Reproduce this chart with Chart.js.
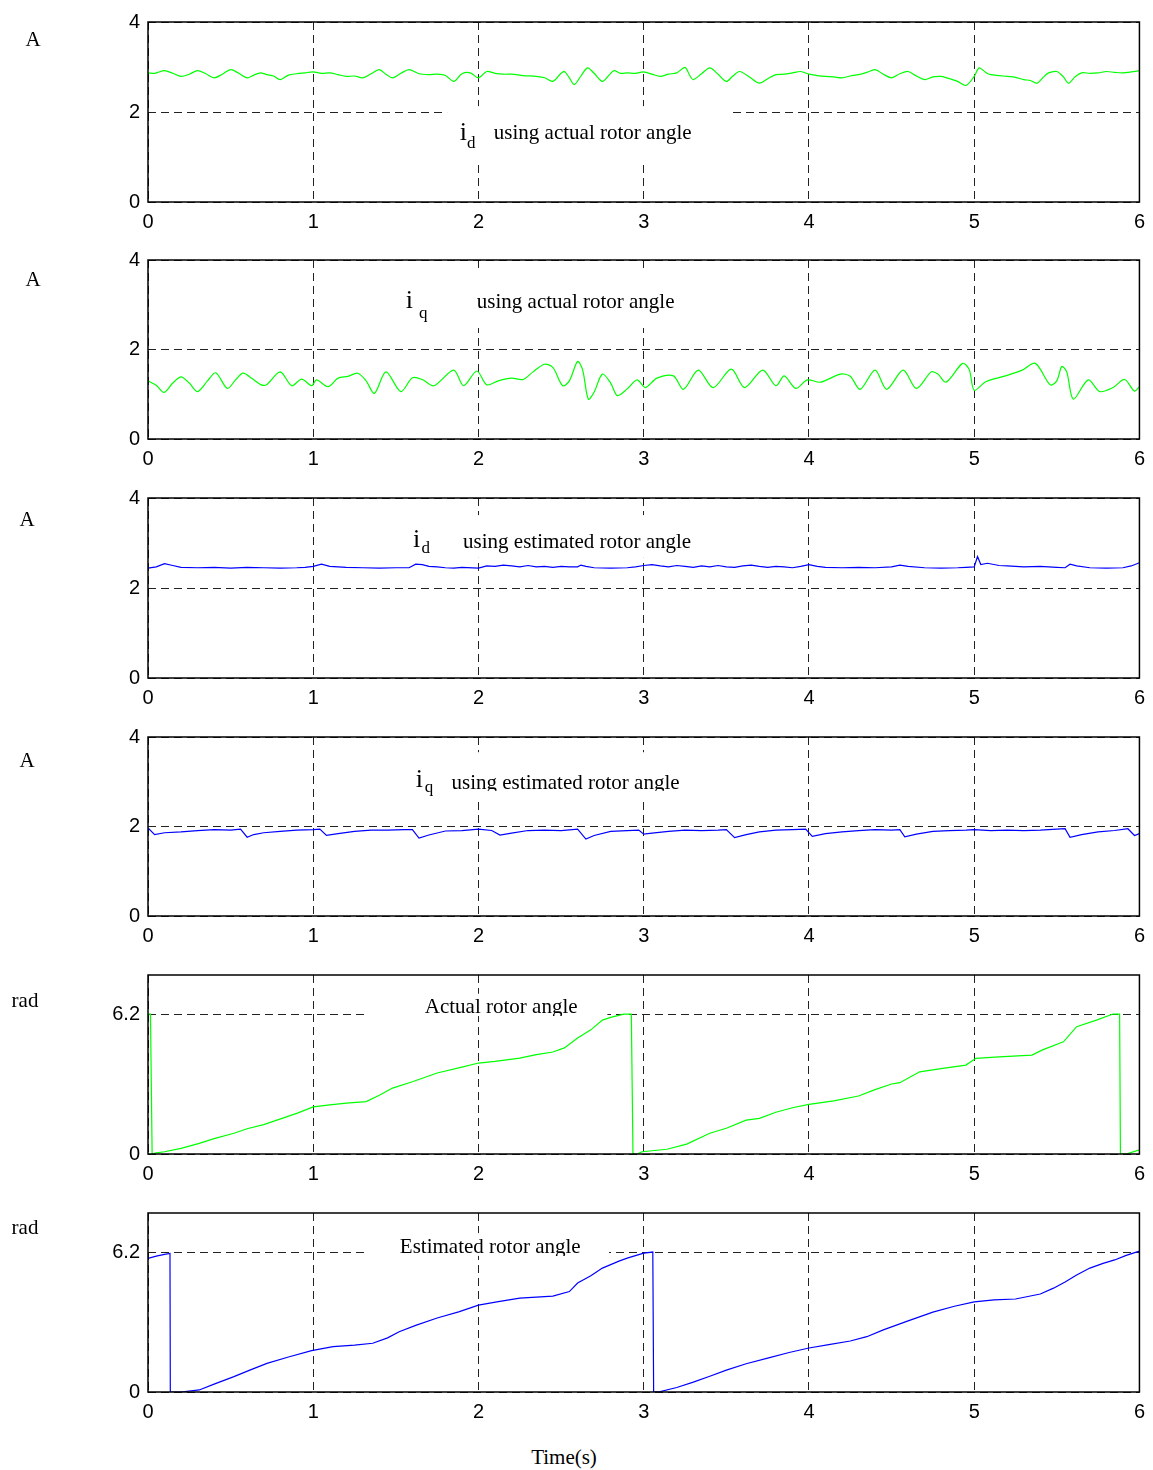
<!DOCTYPE html>
<html>
<head>
<meta charset="utf-8">
<title>Rotor angle / current traces</title>
<script src="https://cdn.jsdelivr.net/npm/chart.js@4.4.0/dist/chart.umd.min.js"></script>
<style>
  html, body { margin: 0; padding: 0; background: #fff; }
  #page { position: relative; width: 1153px; height: 1470px; overflow: hidden; }
  #page canvas { position: absolute; left: 0; }
  #xlabel {
    position: absolute; left: 564px; top: 1457px; transform: translate(-50%, -50%);
    font: 21px "Liberation Serif", "Times New Roman", serif; color: #000; white-space: nowrap;
  }
</style>
</head>
<body>
<div id="page">
  <div id="xlabel">Time(s)</div>
</div>
<script>
// ------------------------------------------------------------
// Data (time in s, value in A or rad)
// ------------------------------------------------------------
const xTicks = [0, 1, 2, 3, 4, 5, 6];
const currentTicks = [0, 2, 4];
const angleTicks = [0, 6.2];

// i_d using actual rotor angle
const idActT = [0.00,0.04,0.10,0.15,0.20,0.25,0.30,0.35,0.40,0.45,0.50,0.55,0.60,0.64,0.68,0.72,0.76,0.80,0.85,0.90,0.95,1.00,1.05,1.10,1.15,1.20,1.25,1.30,1.35,1.40,1.44,1.48,1.53,1.58,1.64,1.70,1.75,1.80,1.85,1.90,1.95,2.00,2.05,2.10,2.15,2.20,2.27,2.35,2.40,2.45,2.50,2.52,2.55,2.58,2.62,2.66,2.70,2.75,2.79,2.82,2.86,2.90,2.95,3.00,3.05,3.10,3.15,3.20,3.25,3.28,3.30,3.35,3.40,3.45,3.50,3.54,3.58,3.64,3.70,3.75,3.80,3.85,3.90,3.95,4.00,4.05,4.10,4.15,4.20,4.25,4.30,4.35,4.40,4.45,4.50,4.55,4.60,4.65,4.70,4.75,4.80,4.85,4.90,4.95,5.00,5.03,5.07,5.10,5.15,5.20,5.25,5.30,5.34,5.38,5.42,5.45,5.50,5.54,5.57,5.61,5.65,5.70,5.75,5.80,5.85,5.90,5.95,6.00];
const idActV = [2.87,2.86,2.92,2.86,2.79,2.84,2.92,2.85,2.76,2.84,2.94,2.86,2.76,2.82,2.87,2.83,2.80,2.72,2.82,2.85,2.87,2.89,2.86,2.87,2.83,2.79,2.80,2.76,2.85,2.94,2.84,2.76,2.86,2.94,2.85,2.83,2.84,2.81,2.68,2.85,2.87,2.76,2.90,2.86,2.84,2.84,2.81,2.79,2.76,2.68,2.86,2.90,2.76,2.61,2.80,2.98,2.86,2.68,2.82,2.92,2.86,2.87,2.86,2.89,2.84,2.79,2.84,2.87,2.99,2.80,2.72,2.85,2.98,2.84,2.68,2.80,2.90,2.78,2.64,2.74,2.83,2.84,2.87,2.90,2.84,2.81,2.79,2.78,2.76,2.80,2.83,2.88,2.94,2.84,2.76,2.85,2.90,2.80,2.72,2.78,2.79,2.74,2.68,2.59,2.79,2.98,2.88,2.83,2.81,2.79,2.77,2.72,2.70,2.64,2.78,2.87,2.90,2.78,2.64,2.78,2.87,2.86,2.87,2.90,2.88,2.87,2.89,2.92];

// i_q using actual rotor angle
const iqActT = [0.00,0.05,0.097,0.15,0.20,0.25,0.30,0.36,0.41,0.48,0.53,0.575,0.63,0.685,0.72,0.80,0.87,0.93,0.99,1.02,1.09,1.15,1.21,1.27,1.32,1.37,1.44,1.53,1.60,1.66,1.73,1.85,1.91,1.99,2.05,2.12,2.20,2.27,2.33,2.40,2.45,2.51,2.55,2.60,2.63,2.665,2.70,2.75,2.80,2.84,2.90,2.96,3.01,3.08,3.18,3.24,3.33,3.42,3.53,3.61,3.72,3.80,3.85,3.92,3.99,4.07,4.19,4.25,4.31,4.40,4.47,4.57,4.65,4.74,4.78,4.83,4.93,4.97,5.00,5.07,5.19,5.29,5.37,5.46,5.50,5.53,5.56,5.60,5.69,5.76,5.84,5.91,5.97,6.00];
const iqActV = [1.30,1.20,1.04,1.25,1.39,1.25,1.06,1.30,1.48,1.13,1.32,1.47,1.35,1.21,1.22,1.50,1.19,1.34,1.19,1.32,1.17,1.36,1.40,1.47,1.30,1.02,1.50,1.06,1.37,1.33,1.19,1.54,1.19,1.52,1.21,1.30,1.36,1.33,1.50,1.67,1.60,1.19,1.30,1.73,1.55,0.89,1.05,1.45,1.25,0.97,1.12,1.32,1.15,1.36,1.41,1.11,1.54,1.15,1.56,1.15,1.54,1.19,1.41,1.13,1.32,1.27,1.45,1.40,1.11,1.54,1.11,1.54,1.13,1.50,1.45,1.27,1.69,1.55,1.09,1.28,1.41,1.54,1.69,1.21,1.30,1.62,1.50,0.89,1.32,1.06,1.15,1.33,1.07,1.17];

// i_d using estimated rotor angle
const idEstT = [0.00,0.05,0.10,0.15,0.20,0.30,0.40,0.50,0.60,0.70,0.80,0.90,0.95,1.00,1.05,1.10,1.20,1.30,1.40,1.50,1.58,1.62,1.66,1.70,1.75,1.80,1.85,1.90,2.00,2.05,2.10,2.15,2.20,2.25,2.30,2.35,2.40,2.45,2.50,2.55,2.60,2.62,2.65,2.70,2.80,2.90,2.95,3.00,3.05,3.10,3.15,3.20,3.25,3.30,3.35,3.40,3.45,3.50,3.55,3.60,3.65,3.70,3.75,3.80,3.85,3.90,3.95,4.00,4.05,4.10,4.20,4.30,4.40,4.50,4.55,4.60,4.70,4.80,4.90,4.95,5.00,5.02,5.04,5.08,5.15,5.20,5.30,5.40,5.50,5.55,5.58,5.62,5.70,5.80,5.90,5.95,6.00];
const idEstV = [2.44,2.47,2.54,2.50,2.46,2.45,2.46,2.44,2.46,2.45,2.44,2.45,2.46,2.48,2.53,2.48,2.46,2.45,2.44,2.45,2.45,2.53,2.52,2.48,2.47,2.45,2.44,2.46,2.44,2.49,2.48,2.51,2.49,2.47,2.50,2.47,2.48,2.46,2.48,2.47,2.47,2.51,2.48,2.45,2.44,2.45,2.47,2.50,2.52,2.49,2.47,2.50,2.48,2.46,2.49,2.47,2.50,2.47,2.46,2.49,2.51,2.48,2.46,2.48,2.47,2.45,2.48,2.52,2.48,2.46,2.45,2.46,2.45,2.47,2.51,2.48,2.45,2.44,2.45,2.46,2.47,2.70,2.52,2.55,2.50,2.49,2.47,2.48,2.46,2.45,2.53,2.49,2.45,2.44,2.45,2.49,2.56];

// i_q using estimated rotor angle
const iqEstT = [0.00,0.04,0.10,0.20,0.30,0.40,0.50,0.56,0.60,0.64,0.70,0.80,0.90,1.00,1.04,1.08,1.15,1.25,1.35,1.45,1.55,1.60,1.64,1.70,1.80,1.90,2.00,2.08,2.13,2.20,2.30,2.40,2.50,2.60,2.65,2.70,2.80,2.90,2.97,3.00,3.05,3.15,3.25,3.35,3.45,3.50,3.55,3.62,3.70,3.80,3.90,3.98,4.02,4.10,4.20,4.30,4.40,4.50,4.55,4.58,4.65,4.75,4.85,4.95,5.00,5.10,5.20,5.30,5.40,5.50,5.55,5.58,5.65,5.75,5.85,5.93,5.97,6.00];
const iqEstV = [1.97,1.82,1.86,1.88,1.91,1.93,1.92,1.94,1.76,1.82,1.86,1.89,1.92,1.93,1.94,1.80,1.84,1.89,1.92,1.92,1.93,1.93,1.74,1.81,1.90,1.91,1.94,1.91,1.81,1.85,1.91,1.92,1.91,1.94,1.72,1.80,1.89,1.91,1.92,1.83,1.85,1.89,1.92,1.91,1.92,1.93,1.75,1.82,1.88,1.92,1.93,1.94,1.78,1.84,1.88,1.91,1.93,1.92,1.93,1.77,1.83,1.89,1.91,1.92,1.93,1.91,1.92,1.91,1.92,1.94,1.95,1.76,1.82,1.88,1.91,1.95,1.80,1.84];

// Actual rotor angle
const angActT = [0.00,0.015,0.025,0.05,0.10,0.20,0.31,0.40,0.52,0.60,0.70,0.78,0.90,1.00,1.10,1.20,1.32,1.40,1.48,1.60,1.75,1.90,2.00,2.10,2.25,2.35,2.45,2.52,2.60,2.68,2.75,2.80,2.88,2.925,2.935,2.96,2.99,3.14,3.26,3.40,3.50,3.62,3.70,3.80,3.90,4.00,4.15,4.30,4.40,4.50,4.55,4.67,4.81,4.95,5.01,5.15,5.35,5.41,5.54,5.62,5.74,5.84,5.88,5.885,5.92,6.00];
const angActV = [6.20,6.20,0.00,0.05,0.10,0.25,0.47,0.68,0.92,1.12,1.30,1.50,1.80,2.09,2.18,2.25,2.32,2.60,2.92,3.20,3.59,3.85,4.03,4.10,4.25,4.40,4.52,4.70,5.14,5.50,5.93,6.05,6.20,6.20,0.00,0.00,0.10,0.21,0.44,0.92,1.14,1.50,1.58,1.85,2.05,2.20,2.35,2.57,2.85,3.10,3.16,3.64,3.79,3.94,4.24,4.30,4.38,4.60,4.97,5.64,5.93,6.20,6.20,0.00,0.00,0.18];

// Estimated rotor angle
const angEstT = [0.00,0.05,0.10,0.133,0.135,0.20,0.31,0.40,0.52,0.62,0.72,0.85,0.99,1.12,1.25,1.36,1.45,1.52,1.62,1.75,1.88,2.00,2.12,2.25,2.45,2.55,2.60,2.68,2.75,2.85,2.90,3.00,3.055,3.06,3.10,3.20,3.30,3.40,3.50,3.62,3.75,3.88,4.00,4.12,4.25,4.35,4.45,4.60,4.75,4.88,5.00,5.12,5.25,5.40,5.48,5.55,5.62,5.70,5.78,5.85,5.92,6.00];
const angEstV = [5.92,6.02,6.10,6.14,0.00,0.00,0.09,0.35,0.68,0.98,1.27,1.55,1.83,2.01,2.08,2.16,2.40,2.67,2.95,3.28,3.55,3.85,4.00,4.16,4.25,4.45,4.83,5.15,5.49,5.80,5.93,6.15,6.20,0.00,0.02,0.20,0.44,0.70,0.97,1.25,1.50,1.75,1.95,2.10,2.26,2.45,2.75,3.15,3.54,3.80,3.99,4.08,4.12,4.34,4.60,4.87,5.18,5.49,5.70,5.85,6.05,6.24];

// ------------------------------------------------------------
// Layout of the six panels (pixel positions of the plot boxes)
// ------------------------------------------------------------
const GREEN = "#00ff00";
const BLUE = "#0000ff";
const SERIF = '"Liberation Serif", "Times New Roman", serif';
const SANS = '"Liberation Sans", Arial, sans-serif';

const panels = [
  { t: idActT, v: idActV, color: GREEN, tension: 0.3, top: 22, h: 180, yMax: 4, ticks: currentTicks,
    unit: "A", unitX: 33, unitDy: 18,
    note: { sym: "i", sub: "d", text: "using actual rotor angle", symAt: [1.887, 1.38], subAt: [1.93, 1.19], textAt: [2.093, 1.39], box: [1.81, 3.53, 2.13, 0.93], clip: null } },
  { t: iqActT, v: iqActV, color: GREEN, tension: 0.3, top: 260, h: 179, yMax: 4, ticks: currentTicks,
    unit: "A", unitX: 33, unitDy: 20,
    note: { sym: "i", sub: "q", text: "using actual rotor angle", symAt: [1.56, 2.92], subAt: [1.64, 2.70], textAt: [1.99, 2.93], box: [1.49, 3.28, 3.82, 2.48], clip: null } },
  { t: idEstT, v: idEstV, color: BLUE, tension: 0, top: 498, h: 180, yMax: 4, ticks: currentTicks,
    unit: "A", unitX: 27, unitDy: 22,
    note: { sym: "i", sub: "d", text: "using estimated rotor angle", symAt: [1.603, 2.92], subAt: [1.655, 2.77], textAt: [1.907, 2.90], box: [1.52, 3.34, 3.62, 2.67], clip: null } },
  { t: iqEstT, v: iqEstV, color: BLUE, tension: 0, top: 737, h: 179, yMax: 4, ticks: currentTicks,
    unit: "A", unitX: 27, unitDy: 24,
    note: { sym: "i", sub: "q", text: "using estimated rotor angle", symAt: [1.621, 2.89], subAt: [1.675, 2.78], textAt: [1.837, 2.83], box: [1.55, 3.34, 3.66, 2.59], clip: 2.80 } },
  { t: angActT, v: angActV, color: GREEN, tension: 0, top: 975, h: 179, yMax: 7.93, ticks: angleTicks,
    unit: "rad", unitX: 25, unitDy: 26,
    note: { sym: "", sub: "", text: "Actual rotor angle", symAt: null, subAt: null, textAt: [1.675, 6.25], box: [1.31, 2.78, 7.10, 6.11], clip: 6.11 } },
  { t: angEstT, v: angEstV, color: BLUE, tension: 0, top: 1213, h: 179, yMax: 7.93, ticks: angleTicks,
    unit: "rad", unitX: 25, unitDy: 15,
    note: { sym: "", sub: "", text: "Estimated rotor angle", symAt: null, subAt: null, textAt: [1.524, 6.16], box: [1.31, 2.79, 7.04, 6.03], clip: 6.03 } }
];

const PAD_TOP = 20;     // room above the plot box for the top tick label
const XAXIS_H = 35;     // room below for the x tick labels
const YAXIS_W = 148;    // left edge of every plot box
const PAD_RIGHT = 13;   // 1153 - 1140

// Draws the white note box + label, the frame and the unit label
function makeDecor(p) {
  return {
    id: "decor",
    beforeDatasetsDraw(chart) {
      const { ctx, scales: { x, y } } = chart;
      const n = p.note;
      const bx0 = x.getPixelForValue(n.box[0]);
      const bx1 = x.getPixelForValue(n.box[1]);
      const by0 = y.getPixelForValue(n.box[2]);
      const by1 = y.getPixelForValue(n.box[3]);
      ctx.save();
      ctx.fillStyle = "#fff";
      ctx.fillRect(bx0, by0, bx1 - bx0, by1 - by0);
      ctx.fillStyle = "#000";
      ctx.textBaseline = "alphabetic";
      ctx.textAlign = "left";
      if (n.sym) {
        ctx.font = "26px " + SERIF;
        ctx.fillText(n.sym, x.getPixelForValue(n.symAt[0]), y.getPixelForValue(n.symAt[1]));
        ctx.font = "17px " + SERIF;
        ctx.fillText(n.sub, x.getPixelForValue(n.subAt[0]), y.getPixelForValue(n.subAt[1]));
      }
      // main text, cut off at the box edge where the original is cut
      if (n.clip !== null) {
        const cy = y.getPixelForValue(n.clip);
        ctx.beginPath();
        ctx.rect(chart.chartArea.left, chart.chartArea.top, chart.chartArea.width, cy - chart.chartArea.top);
        ctx.clip();
      }
      ctx.font = "21px " + SERIF;
      ctx.fillText(n.text, x.getPixelForValue(n.textAt[0]), y.getPixelForValue(n.textAt[1]));
      ctx.restore();
    },
    afterDraw(chart) {
      const { ctx, chartArea: a } = chart;
      ctx.save();
      ctx.strokeStyle = "#000";
      ctx.lineWidth = 1.5;
      ctx.setLineDash([]);
      ctx.strokeRect(a.left, a.top, a.width, a.height);
      ctx.fillStyle = "#000";
      ctx.font = "21px " + SERIF;
      ctx.textAlign = "center";
      ctx.textBaseline = "middle";
      ctx.fillText(p.unit, p.unitX, a.top + p.unitDy);
      ctx.restore();
    }
  };
}

const page = document.getElementById("page");

panels.forEach(p => {
  const canvas = document.createElement("canvas");
  canvas.width = 1153;
  canvas.height = p.h + PAD_TOP + XAXIS_H;
  canvas.style.top = (p.top - PAD_TOP) + "px";
  page.appendChild(canvas);

  const tickFont = { family: SANS, size: 20 };

  new Chart(canvas.getContext("2d"), {
    type: "line",
    data: {
      datasets: [{
        data: p.t.map((t, i) => ({ x: t, y: p.v[i] })),
        borderColor: p.color,
        borderWidth: 1.2,
        pointRadius: 0,
        tension: p.tension,
        fill: false
      }]
    },
    options: {
      responsive: false,
      animation: false,
      events: [],
      layout: { padding: { top: PAD_TOP, right: PAD_RIGHT, left: 0, bottom: 0 } },
      plugins: { legend: { display: false }, tooltip: { enabled: false } },
      scales: {
        x: {
          type: "linear",
          min: xTicks[0],
          max: xTicks[xTicks.length - 1],
          afterFit: s => { s.height = XAXIS_H; },
          afterBuildTicks: s => { s.ticks = xTicks.map(v => ({ value: v })); },
          ticks: { color: "#000", font: tickFont, padding: 8, maxRotation: 0, autoSkip: false },
          grid: { color: "#222", lineWidth: 1, drawTicks: false },
          border: { display: false, dash: [8, 5] }
        },
        y: {
          min: 0,
          max: p.yMax,
          afterFit: s => { s.width = YAXIS_W; },
          afterBuildTicks: s => { s.ticks = p.ticks.map(v => ({ value: v })); },
          ticks: { color: "#000", font: tickFont, padding: 8, autoSkip: false },
          grid: { color: "#222", lineWidth: 1, drawTicks: false },
          border: { display: false, dash: [8, 5] }
        }
      }
    },
    plugins: [makeDecor(p)]
  });
});
</script>
</body>
</html>
